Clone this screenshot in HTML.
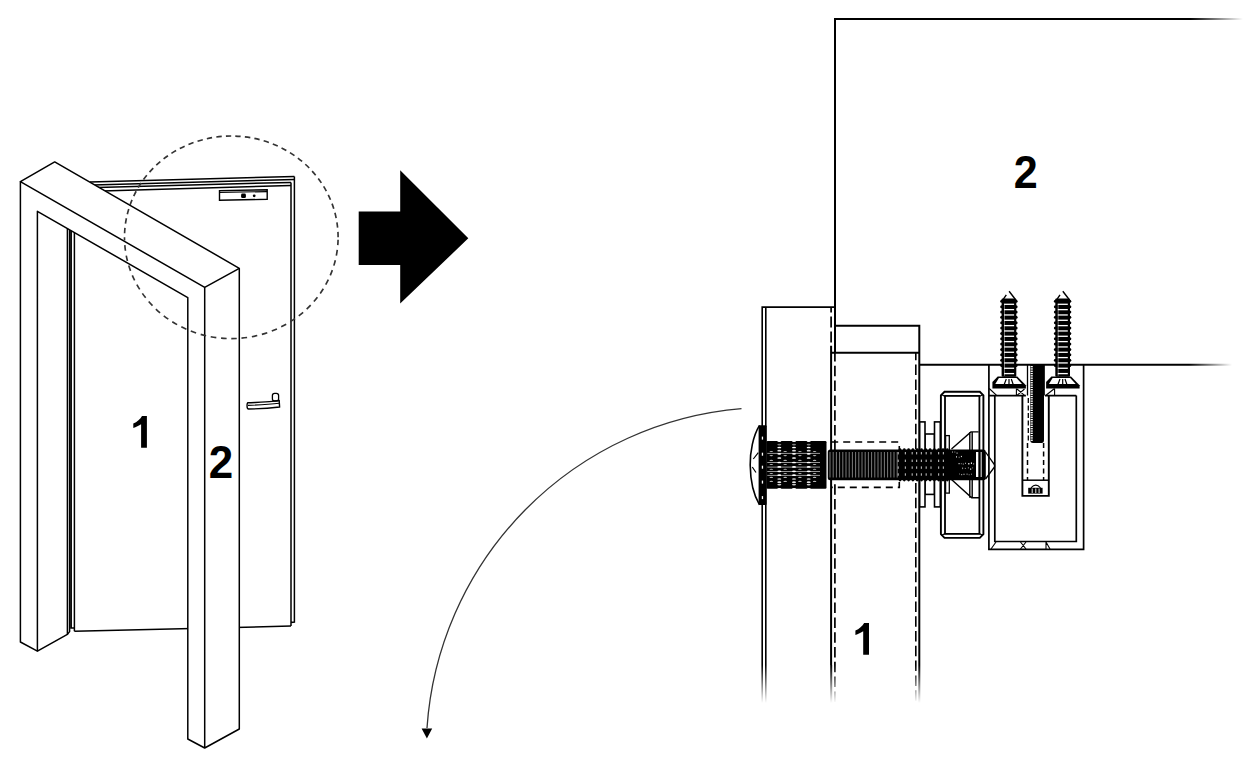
<!DOCTYPE html>
<html><head><meta charset="utf-8"><style>
html,body{margin:0;padding:0;background:#fff;}
body{width:1251px;height:759px;overflow:hidden;}
svg{display:block;}
text{font-family:"Liberation Sans",sans-serif;font-weight:bold;fill:#000;}
</style></head><body>
<svg width="1251" height="759" viewBox="0 0 1251 759">
<defs>
<linearGradient id="fadeH1" gradientUnits="userSpaceOnUse" x1="1190" y1="0" x2="1243" y2="0"><stop offset="0" stop-color="#000"/><stop offset="1" stop-color="#000" stop-opacity="0"/></linearGradient>
<linearGradient id="fadeH2" gradientUnits="userSpaceOnUse" x1="1189" y1="0" x2="1232" y2="0"><stop offset="0" stop-color="#000"/><stop offset="1" stop-color="#000" stop-opacity="0"/></linearGradient>
<linearGradient id="fadeV" gradientUnits="userSpaceOnUse" x1="0" y1="665" x2="0" y2="703"><stop offset="0" stop-color="#000"/><stop offset="1" stop-color="#000" stop-opacity="0"/></linearGradient>
</defs>

<!-- ============ LEFT FIGURE ============ -->
<g id="door" fill="none" stroke="#000" stroke-width="1.5">
  <!-- door top lines -->
  <path d="M90,181.9 L294.4,176.4 M93,184.9 L294.4,179.5 M97,187.5 L291,182.4 M102,190.9 L291,185.5"/>
  <!-- door right edges -->
  <path d="M294.4,176.4 L294.4,622.1 L291,622.4 M291,182.4 L291,626.1"/>
  <!-- door bottom -->
  <path d="M74.4,631.3 L291,626.1"/>
  <!-- door left edges -->
  <path d="M69.6,229.8 L69.6,631.6 L67.4,634.4 M71.2,230.7 L71.2,628 L74.4,628 M74.4,232.6 L74.4,631.3"/>
  <!-- lock plate -->
  <path d="M219.5,190.6 L267.2,189.8 L267.2,199.3 L219.5,200.3 Z" stroke-width="1.4"/>
  <path d="M219.5,192.3 L267.2,191.6" stroke-width="1.2"/>
  <!-- handle -->
  <path d="M248,402.8 C256,402.4 266,402.3 272,401.4 L279.2,400.6 L279.6,407 C272,408 262,408.9 248.5,409 C246.5,409 246.8,403 248,402.8 Z" stroke-width="1.4"/>
  <path d="M248,405.4 C258,405 268,404.6 279.2,403.2" stroke-width="1.1"/>
  <rect x="272.4" y="393.4" width="6.2" height="7.6" rx="2.2" stroke-width="1.3"/>
</g>
<g fill="#000">
  <rect x="241.1" y="193.6" width="4.8" height="4.4" rx="1.3"/>
  <circle cx="254.2" cy="195.8" r="1.4"/>
</g>

<g id="frame" stroke="#000" stroke-width="1.5" stroke-linejoin="round">
  <path d="M20.4,181.6 L54.7,161.9 L239.3,268.3 L239.3,729 L204.7,748 L187.8,739 L187.8,297.6 L37.4,211.3 Z" fill="#fff" stroke="none"/>
  <path d="M20.4,181.6 L54.7,161.9 L239.3,268.3 L204.7,287.4 Z" fill="none"/>
  <path d="M204.7,287.4 L204.7,748 M37.4,651.2 L37.4,211.3 L187.8,297.6 L187.8,739 L204.7,748 L239.3,729 L239.3,268.3" fill="none"/>
  <path d="M20.4,181.6 L20.4,642 L37.4,651.2 L67.4,634.4 L67.4,228.6" fill="none"/>
</g>

<g fill="none" stroke="#333" stroke-width="1.65">
<path d="M338.1,237.3 A106.8,101.3 0 0 1 124.5,237.3" stroke-dasharray="5.6 4.75" stroke-dashoffset="7.92"/>
<path d="M124.5,237.3 A106.8,101.3 0 0 1 338.1,237.3" stroke-dasharray="5.4 4.2" stroke-dashoffset="5.45"/>
</g>

<path id="one" d="M142,416 L146.9,416 L146.9,447.7 L141.1,447.7 L141.1,424.2 C139,425.5 136,427 133.3,428 L133.3,423.6 C137,422 140.5,419 142,416 Z" fill="#000"/>
<text transform="translate(208.8,478.3) scale(0.95,1)" font-size="46.3">2</text>

<!-- block arrow -->
<path d="M358.7,211.5 L400.2,211.5 L400.2,170.2 L468.3,238.3 L400.2,303.6 L400.2,265.1 L358.7,265.1 Z" fill="#000"/>

<!-- ============ RIGHT FIGURE ============ -->
<g fill="none" stroke="#000" stroke-width="2">
  <!-- wall 2 -->
  <path d="M835,352.7 L835,19.1 L1190,19.1"/>
  <path d="M1190,19.1 L1243,19.1" stroke="url(#fadeH1)"/>
  <path d="M919.3,364.8 L1189,364.8"/>
  <path d="M1189,364.8 L1232,364.8" stroke="url(#fadeH2)"/>
  <!-- frame 1 -->
  <path d="M762.2,665 L762.2,307.1 L834.8,307.1 M765.8,307.1 L765.8,665" stroke-width="1.6"/>
  <path d="M762.2,665 L762.2,703 M765.8,665 L765.8,703" stroke="url(#fadeV)" stroke-width="1.6"/>
  <path d="M831.1,307.5 L831.1,345.8" stroke-dasharray="11 4" stroke-dashoffset="6" stroke-width="1.7"/>
  <!-- small rect -->
  <path d="M835,325.8 L919.3,325.8 L919.3,665 M831.1,352.8 L919.3,352.8 M831.1,345.8 L831.1,665"/>
  <path d="M919.3,665 L919.3,703 M831.2,665 L831.2,703" stroke="url(#fadeV)"/>
  <path d="M834.9,353 L834.9,703" stroke-dasharray="10.5 4.3" stroke-dashoffset="2" stroke-width="1.7" stroke="url(#fadeV)"/>
  <path d="M915.8,353 L915.8,703" stroke-dasharray="10.5 4.3" stroke-dashoffset="3.2" stroke-width="1.6" stroke="url(#fadeV)"/>
</g>

<!--HW-->
<path d="M831.2,442 L899.3,442 L899.3,487.4 L831.2,487.4" fill="none" stroke="#000" stroke-width="1.6" stroke-dasharray="7 5"/>
<g fill="#fff" stroke="#000" stroke-width="1.6">
<rect x="925" y="434" width="9.5" height="60.4"/>
<rect x="919.7" y="421.9" width="5.3" height="85"/>
<rect x="934.5" y="421.9" width="5.8" height="85"/>
<path d="M944.5,391.8 L979.8,391.8 L983.4,395.4 L983.4,534.2 L979.8,537.9 L944.5,537.9 L940.9,534.2 L940.9,395.4 Z" stroke-width="1.9"/>
<rect x="945" y="395.9" width="34.4" height="138" stroke-width="1.8"/>
<path d="M941.5,394.5 L945,396.5 M983,394.5 L979.4,396.5 M941.5,535.5 L945,533.5 M983,535.5 L979.4,533.5" stroke-width="1.2"/>
<rect x="945.6" y="435.6" width="3.7" height="57.5" stroke-width="1.3"/>
</g>
<path d="M951.5,449 L970.9,431.9 L978.6,431.9 M951.5,479.5 L971.7,497.7 L979,497.7 M969.8,432 L969.8,497.7 M972.2,432 L972.2,497.7" fill="none" stroke="#000" stroke-width="1.4"/>
<rect x="827.8" y="449.4" width="158" height="30.9" rx="2.5" fill="#000"/>
<g stroke="#999" stroke-width="0.8"><path d="M830.0,452 L830.0,477.5"/><path d="M833.2,452 L833.2,477.5"/><path d="M836.4,452 L836.4,477.5"/><path d="M839.6,452 L839.6,477.5"/><path d="M842.8,452 L842.8,477.5"/><path d="M846.0,452 L846.0,477.5"/><path d="M849.2,452 L849.2,477.5"/><path d="M852.4,452 L852.4,477.5"/><path d="M855.6,452 L855.6,477.5"/><path d="M858.8,452 L858.8,477.5"/><path d="M862.0,452 L862.0,477.5"/><path d="M865.2,452 L865.2,477.5"/><path d="M868.4,452 L868.4,477.5"/><path d="M871.6,452 L871.6,477.5"/><path d="M874.8,452 L874.8,477.5"/><path d="M878.0,452 L878.0,477.5"/><path d="M881.2,452 L881.2,477.5"/><path d="M884.4,452 L884.4,477.5"/><path d="M887.6,452 L887.6,477.5"/><path d="M890.8,452 L890.8,477.5"/><path d="M894.0,452 L894.0,477.5"/><path d="M897.2,452 L897.2,477.5"/></g>
<rect x="897.6" y="452.0" width="1.2" height="2.4" fill="#aaa"/><rect x="904.8" y="452.0" width="1.2" height="2.4" fill="#aaa"/><rect x="911.6" y="452.0" width="1.2" height="2.4" fill="#aaa"/><rect x="916.0" y="452.0" width="1.2" height="2.4" fill="#aaa"/><rect x="920.8" y="452.0" width="1.2" height="2.4" fill="#aaa"/><rect x="925.6" y="452.0" width="1.2" height="2.4" fill="#aaa"/><rect x="930.4" y="452.0" width="1.2" height="2.4" fill="#aaa"/><rect x="938.0" y="452.0" width="1.2" height="2.4" fill="#aaa"/><rect x="942.8" y="452.0" width="1.2" height="2.4" fill="#aaa"/><rect x="897.6" y="459.6" width="1.2" height="2.4" fill="#aaa"/><rect x="904.8" y="459.6" width="1.2" height="2.4" fill="#aaa"/><rect x="911.6" y="459.6" width="1.2" height="2.4" fill="#aaa"/><rect x="916.0" y="459.6" width="1.2" height="2.4" fill="#aaa"/><rect x="920.8" y="459.6" width="1.2" height="2.4" fill="#aaa"/><rect x="925.6" y="459.6" width="1.2" height="2.4" fill="#aaa"/><rect x="930.4" y="459.6" width="1.2" height="2.4" fill="#aaa"/><rect x="938.0" y="459.6" width="1.2" height="2.4" fill="#aaa"/><rect x="942.8" y="459.6" width="1.2" height="2.4" fill="#aaa"/><rect x="897.6" y="466.4" width="1.2" height="2.4" fill="#aaa"/><rect x="904.8" y="466.4" width="1.2" height="2.4" fill="#aaa"/><rect x="911.6" y="466.4" width="1.2" height="2.4" fill="#aaa"/><rect x="916.0" y="466.4" width="1.2" height="2.4" fill="#aaa"/><rect x="920.8" y="466.4" width="1.2" height="2.4" fill="#aaa"/><rect x="925.6" y="466.4" width="1.2" height="2.4" fill="#aaa"/><rect x="930.4" y="466.4" width="1.2" height="2.4" fill="#aaa"/><rect x="938.0" y="466.4" width="1.2" height="2.4" fill="#aaa"/><rect x="942.8" y="466.4" width="1.2" height="2.4" fill="#aaa"/><rect x="897.6" y="473.3" width="1.2" height="2.4" fill="#aaa"/><rect x="904.8" y="473.3" width="1.2" height="2.4" fill="#aaa"/><rect x="911.6" y="473.3" width="1.2" height="2.4" fill="#aaa"/><rect x="916.0" y="473.3" width="1.2" height="2.4" fill="#aaa"/><rect x="920.8" y="473.3" width="1.2" height="2.4" fill="#aaa"/><rect x="925.6" y="473.3" width="1.2" height="2.4" fill="#aaa"/><rect x="930.4" y="473.3" width="1.2" height="2.4" fill="#aaa"/><rect x="938.0" y="473.3" width="1.2" height="2.4" fill="#aaa"/><rect x="942.8" y="473.3" width="1.2" height="2.4" fill="#aaa"/>
<g fill="#000"><circle cx="900.0" cy="449.6" r="1.3"/><circle cx="900.0" cy="480.1" r="1.3"/><circle cx="904.3" cy="449.6" r="1.3"/><circle cx="904.3" cy="480.1" r="1.3"/><circle cx="908.6" cy="449.6" r="1.3"/><circle cx="908.6" cy="480.1" r="1.3"/><circle cx="912.9" cy="449.6" r="1.3"/><circle cx="912.9" cy="480.1" r="1.3"/><circle cx="917.2" cy="449.6" r="1.3"/><circle cx="917.2" cy="480.1" r="1.3"/><circle cx="921.5" cy="449.6" r="1.3"/><circle cx="921.5" cy="480.1" r="1.3"/><circle cx="925.8" cy="449.6" r="1.3"/><circle cx="925.8" cy="480.1" r="1.3"/><circle cx="930.1" cy="449.6" r="1.3"/><circle cx="930.1" cy="480.1" r="1.3"/><circle cx="934.4" cy="449.6" r="1.3"/><circle cx="934.4" cy="480.1" r="1.3"/><circle cx="938.7" cy="449.6" r="1.3"/><circle cx="938.7" cy="480.1" r="1.3"/><circle cx="943.0" cy="449.6" r="1.3"/><circle cx="943.0" cy="480.1" r="1.3"/><circle cx="947.3" cy="449.6" r="1.3"/><circle cx="947.3" cy="480.1" r="1.3"/></g>
<rect x="976" y="452" width="2.3" height="25" fill="#fff"/>
<rect x="980.6" y="452" width="1.2" height="25" fill="#fff" fill-opacity="0.8"/>
<rect x="952.0" y="451.5" width="0.9" height="1.1" fill="#fff" fill-opacity="0.77"/><rect x="954.6" y="451.3" width="0.6" height="1.5" fill="#fff" fill-opacity="0.62"/><rect x="956.6" y="452.4" width="0.9" height="1.5" fill="#fff" fill-opacity="0.71"/><rect x="956.0" y="456.1" width="1.0" height="1.5" fill="#fff" fill-opacity="0.74"/><rect x="958.8" y="456.7" width="0.6" height="1.4" fill="#fff" fill-opacity="0.77"/><rect x="960.9" y="455.9" width="1.1" height="1.2" fill="#fff" fill-opacity="0.82"/><rect x="958.5" y="463.1" width="1.2" height="1.1" fill="#fff" fill-opacity="0.86"/><rect x="960.8" y="463.3" width="1.1" height="0.9" fill="#fff" fill-opacity="0.56"/><rect x="962.8" y="463.4" width="0.9" height="1.3" fill="#fff" fill-opacity="0.64"/><rect x="965.2" y="462.7" width="0.8" height="1.3" fill="#fff" fill-opacity="0.76"/><rect x="968.2" y="463.0" width="1.2" height="1.5" fill="#fff" fill-opacity="0.95"/><rect x="970.9" y="462.4" width="1.1" height="1.6" fill="#fff" fill-opacity="0.91"/><rect x="973.4" y="463.1" width="0.7" height="1.5" fill="#fff" fill-opacity="0.76"/><rect x="962.0" y="467.5" width="1.1" height="1.6" fill="#fff" fill-opacity="0.54"/><rect x="964.9" y="467.9" width="0.7" height="1.0" fill="#fff" fill-opacity="0.85"/><rect x="967.9" y="467.5" width="1.0" height="0.8" fill="#fff" fill-opacity="0.82"/><rect x="970.0" y="468.5" width="1.2" height="1.2" fill="#fff" fill-opacity="0.95"/><rect x="972.1" y="467.5" width="1.0" height="0.8" fill="#fff" fill-opacity="0.59"/><rect x="959.0" y="473.6" width="0.7" height="0.8" fill="#fff" fill-opacity="0.89"/><rect x="961.1" y="474.1" width="1.1" height="1.1" fill="#fff" fill-opacity="0.71"/><rect x="963.5" y="473.7" width="1.0" height="1.2" fill="#fff" fill-opacity="0.78"/><rect x="966.6" y="473.5" width="0.9" height="1.4" fill="#fff" fill-opacity="0.61"/><rect x="968.7" y="474.1" width="0.9" height="1.2" fill="#fff" fill-opacity="0.51"/><rect x="971.0" y="473.6" width="0.6" height="1.3" fill="#fff" fill-opacity="0.78"/>
<path d="M985.5,452 L994.5,464.8 L994.5,467 L985.5,479" fill="none" stroke="#000" stroke-width="1.3"/>
<rect x="766.5" y="441.1" width="60" height="47.7" rx="1.2" fill="#000"/>
<ellipse cx="779.3" cy="441.3" rx="2.0" ry="0.7" fill="#fff"/>
<ellipse cx="779.3" cy="488.7" rx="2.0" ry="0.7" fill="#fff"/>
<ellipse cx="794.0" cy="441.3" rx="2.0" ry="0.7" fill="#fff"/>
<ellipse cx="794.0" cy="488.7" rx="2.0" ry="0.7" fill="#fff"/>
<ellipse cx="808.7" cy="441.3" rx="2.0" ry="0.7" fill="#fff"/>
<ellipse cx="808.7" cy="488.7" rx="2.0" ry="0.7" fill="#fff"/>
<path d="M767.3,453.4 L820,453.4" stroke="#fff" stroke-width="0.7" stroke-opacity="0.85"/>
<path d="M767.3,462.5 L820,462.5" stroke="#fff" stroke-width="0.7" stroke-opacity="0.85"/>
<path d="M767.3,467.1 L820,467.1" stroke="#fff" stroke-width="0.7" stroke-opacity="0.85"/>
<path d="M767.3,471.5 L820,471.5" stroke="#fff" stroke-width="0.7" stroke-opacity="0.85"/>
<path d="M767.3,475.4 L820,475.4" stroke="#fff" stroke-width="0.7" stroke-opacity="0.85"/>
<ellipse cx="779.3" cy="444.6" rx="2.0" ry="0.85" fill="#fff" fill-opacity="0.5"/>
<ellipse cx="779.3" cy="447.5" rx="2.0" ry="0.85" fill="#fff" fill-opacity="1"/>
<ellipse cx="779.3" cy="450.7" rx="2.0" ry="0.85" fill="#fff" fill-opacity="0.85"/>
<ellipse cx="779.3" cy="453.8" rx="2.0" ry="0.85" fill="#fff" fill-opacity="1"/>
<ellipse cx="779.3" cy="458" rx="2.0" ry="0.85" fill="#fff" fill-opacity="1"/>
<ellipse cx="779.3" cy="462.5" rx="2.0" ry="0.85" fill="#fff" fill-opacity="1"/>
<ellipse cx="779.3" cy="466.9" rx="2.0" ry="0.85" fill="#fff" fill-opacity="1"/>
<ellipse cx="779.3" cy="471.3" rx="2.0" ry="0.85" fill="#fff" fill-opacity="1"/>
<ellipse cx="779.3" cy="475.2" rx="2.0" ry="0.85" fill="#fff" fill-opacity="1"/>
<ellipse cx="779.3" cy="479" rx="2.0" ry="0.85" fill="#fff" fill-opacity="0.8"/>
<ellipse cx="779.3" cy="482.2" rx="2.0" ry="0.85" fill="#fff" fill-opacity="0.9"/>
<ellipse cx="779.3" cy="484.6" rx="2.0" ry="0.85" fill="#fff" fill-opacity="0.8"/>
<ellipse cx="794.0" cy="444.6" rx="2.0" ry="0.85" fill="#fff" fill-opacity="0.5"/>
<ellipse cx="794.0" cy="447.5" rx="2.0" ry="0.85" fill="#fff" fill-opacity="1"/>
<ellipse cx="794.0" cy="450.7" rx="2.0" ry="0.85" fill="#fff" fill-opacity="0.85"/>
<ellipse cx="794.0" cy="453.8" rx="2.0" ry="0.85" fill="#fff" fill-opacity="1"/>
<ellipse cx="794.0" cy="458" rx="2.0" ry="0.85" fill="#fff" fill-opacity="1"/>
<ellipse cx="794.0" cy="462.5" rx="2.0" ry="0.85" fill="#fff" fill-opacity="1"/>
<ellipse cx="794.0" cy="466.9" rx="2.0" ry="0.85" fill="#fff" fill-opacity="1"/>
<ellipse cx="794.0" cy="471.3" rx="2.0" ry="0.85" fill="#fff" fill-opacity="1"/>
<ellipse cx="794.0" cy="475.2" rx="2.0" ry="0.85" fill="#fff" fill-opacity="1"/>
<ellipse cx="794.0" cy="479" rx="2.0" ry="0.85" fill="#fff" fill-opacity="0.8"/>
<ellipse cx="794.0" cy="482.2" rx="2.0" ry="0.85" fill="#fff" fill-opacity="0.9"/>
<ellipse cx="794.0" cy="484.6" rx="2.0" ry="0.85" fill="#fff" fill-opacity="0.8"/>
<ellipse cx="808.7" cy="444.6" rx="2.0" ry="0.85" fill="#fff" fill-opacity="0.5"/>
<ellipse cx="808.7" cy="447.5" rx="2.0" ry="0.85" fill="#fff" fill-opacity="1"/>
<ellipse cx="808.7" cy="450.7" rx="2.0" ry="0.85" fill="#fff" fill-opacity="0.85"/>
<ellipse cx="808.7" cy="453.8" rx="2.0" ry="0.85" fill="#fff" fill-opacity="1"/>
<ellipse cx="808.7" cy="458" rx="2.0" ry="0.85" fill="#fff" fill-opacity="1"/>
<ellipse cx="808.7" cy="462.5" rx="2.0" ry="0.85" fill="#fff" fill-opacity="1"/>
<ellipse cx="808.7" cy="466.9" rx="2.0" ry="0.85" fill="#fff" fill-opacity="1"/>
<ellipse cx="808.7" cy="471.3" rx="2.0" ry="0.85" fill="#fff" fill-opacity="1"/>
<ellipse cx="808.7" cy="475.2" rx="2.0" ry="0.85" fill="#fff" fill-opacity="1"/>
<ellipse cx="808.7" cy="479" rx="2.0" ry="0.85" fill="#fff" fill-opacity="0.8"/>
<ellipse cx="808.7" cy="482.2" rx="2.0" ry="0.85" fill="#fff" fill-opacity="0.9"/>
<ellipse cx="808.7" cy="484.6" rx="2.0" ry="0.85" fill="#fff" fill-opacity="0.8"/>
<ellipse cx="771.3" cy="451.5" rx="1.8" ry="0.55" fill="#fff" fill-opacity="0.7"/>
<ellipse cx="771.3" cy="455.6" rx="1.8" ry="0.55" fill="#fff" fill-opacity="0.7"/>
<ellipse cx="771.3" cy="460.4" rx="1.8" ry="0.55" fill="#fff" fill-opacity="0.7"/>
<ellipse cx="771.3" cy="464.5" rx="1.8" ry="0.55" fill="#fff" fill-opacity="0.7"/>
<ellipse cx="771.3" cy="469.3" rx="1.8" ry="0.55" fill="#fff" fill-opacity="0.7"/>
<ellipse cx="771.3" cy="473.5" rx="1.8" ry="0.55" fill="#fff" fill-opacity="0.7"/>
<ellipse cx="771.3" cy="477.4" rx="1.8" ry="0.55" fill="#fff" fill-opacity="0.7"/>
<ellipse cx="771.3" cy="481.4" rx="1.8" ry="0.55" fill="#fff" fill-opacity="0.7"/>
<ellipse cx="785.2" cy="451.5" rx="1.8" ry="0.55" fill="#fff" fill-opacity="0.7"/>
<ellipse cx="785.2" cy="455.6" rx="1.8" ry="0.55" fill="#fff" fill-opacity="0.7"/>
<ellipse cx="785.2" cy="460.4" rx="1.8" ry="0.55" fill="#fff" fill-opacity="0.7"/>
<ellipse cx="785.2" cy="464.5" rx="1.8" ry="0.55" fill="#fff" fill-opacity="0.7"/>
<ellipse cx="785.2" cy="469.3" rx="1.8" ry="0.55" fill="#fff" fill-opacity="0.7"/>
<ellipse cx="785.2" cy="473.5" rx="1.8" ry="0.55" fill="#fff" fill-opacity="0.7"/>
<ellipse cx="785.2" cy="477.4" rx="1.8" ry="0.55" fill="#fff" fill-opacity="0.7"/>
<ellipse cx="785.2" cy="481.4" rx="1.8" ry="0.55" fill="#fff" fill-opacity="0.7"/>
<ellipse cx="799.9" cy="451.5" rx="1.8" ry="0.55" fill="#fff" fill-opacity="0.7"/>
<ellipse cx="799.9" cy="455.6" rx="1.8" ry="0.55" fill="#fff" fill-opacity="0.7"/>
<ellipse cx="799.9" cy="460.4" rx="1.8" ry="0.55" fill="#fff" fill-opacity="0.7"/>
<ellipse cx="799.9" cy="464.5" rx="1.8" ry="0.55" fill="#fff" fill-opacity="0.7"/>
<ellipse cx="799.9" cy="469.3" rx="1.8" ry="0.55" fill="#fff" fill-opacity="0.7"/>
<ellipse cx="799.9" cy="473.5" rx="1.8" ry="0.55" fill="#fff" fill-opacity="0.7"/>
<ellipse cx="799.9" cy="477.4" rx="1.8" ry="0.55" fill="#fff" fill-opacity="0.7"/>
<ellipse cx="799.9" cy="481.4" rx="1.8" ry="0.55" fill="#fff" fill-opacity="0.7"/>
<ellipse cx="814.6" cy="451.5" rx="1.8" ry="0.55" fill="#fff" fill-opacity="0.7"/>
<ellipse cx="814.6" cy="455.6" rx="1.8" ry="0.55" fill="#fff" fill-opacity="0.7"/>
<ellipse cx="814.6" cy="460.4" rx="1.8" ry="0.55" fill="#fff" fill-opacity="0.7"/>
<ellipse cx="814.6" cy="464.5" rx="1.8" ry="0.55" fill="#fff" fill-opacity="0.7"/>
<ellipse cx="814.6" cy="469.3" rx="1.8" ry="0.55" fill="#fff" fill-opacity="0.7"/>
<ellipse cx="814.6" cy="473.5" rx="1.8" ry="0.55" fill="#fff" fill-opacity="0.7"/>
<ellipse cx="814.6" cy="477.4" rx="1.8" ry="0.55" fill="#fff" fill-opacity="0.7"/>
<ellipse cx="814.6" cy="481.4" rx="1.8" ry="0.55" fill="#fff" fill-opacity="0.7"/>
<rect x="758.6" y="425.2" width="8" height="79.8" rx="1" fill="#000"/>
<rect x="761.8" y="436.6" width="1.3" height="3" fill="#fff"/>
<rect x="761.8" y="452.7" width="1.3" height="3" fill="#fff"/>
<rect x="761.8" y="465.7" width="1.3" height="3" fill="#fff"/>
<rect x="761.8" y="480.6" width="1.3" height="3" fill="#fff"/>
<rect x="761.8" y="496.1" width="1.3" height="3" fill="#fff"/>
<path d="M759.5,425.4 C753,436 750,452 750.2,465 C750.4,480 753,494 759.5,504.8" fill="none" stroke="#000" stroke-width="1.6"/>
<path d="M753.3,459 L758.3,452.7 M752.3,467 L756,472.5" fill="none" stroke="#000" stroke-width="1.2"/>
<g fill="none" stroke="#000" stroke-width="1.7">
<path d="M988.9,364.7 L988.9,549.4 L1083.6,549.4 L1083.6,364.7"/>
<path d="M994.8,395.6 L994.8,541.5 L1076.3,541.5 L1076.3,395.6"/>
<path d="M988.9,395.6 L1025.9,395.6 M1045,395.6 L1076.3,395.6"/>
<path d="M1022.4,395.6 L1022.4,495.9 L1048.8,495.9 L1048.8,395.6" stroke-width="1.9"/>
<path d="M1022.4,480.2 L1048.8,480.2" stroke-width="1.5"/>
<path d="M1027.5,364.7 L1027.5,395.6 M1044.2,364.7 L1044.2,395.6" stroke-width="1.3"/>
</g>
<path d="M991,549 L996,542 M1020.5,542 L1026,549 M1020.5,549 L1026,542 M1046,542 L1050,549 M1046,549 L1046,542" fill="none" stroke="#000" stroke-width="1.1"/>
<path d="M989.2,388.5 L996.9,395.6 M1016.4,388.5 L1016.4,395.6 M1017,389 L1024.5,395.3 M1017,395.3 L1024.5,389 M1054.5,388.5 L1046,395.3 M1054.6,388.5 L1054.6,395.6" fill="none" stroke="#000" stroke-width="1.1"/>
<path d="M1030.2,364.7 L1044,364.7 L1044,440 Q1044,443 1041.5,443 L1033,443 Q1030.2,443 1030.2,440 Z" fill="#000"/>
<rect x="1030.6" y="366.0" width="2.2" height="1.3" fill="#fff"/><rect x="1030.6" y="368.3" width="2.2" height="1.3" fill="#fff"/><rect x="1030.6" y="370.6" width="2.2" height="1.3" fill="#fff"/><rect x="1030.6" y="372.9" width="2.2" height="1.3" fill="#fff"/><rect x="1030.6" y="375.2" width="2.2" height="1.3" fill="#fff"/><rect x="1030.6" y="377.5" width="2.2" height="1.3" fill="#fff"/><rect x="1030.6" y="379.8" width="2.2" height="1.3" fill="#fff"/><rect x="1030.6" y="382.1" width="2.2" height="1.3" fill="#fff"/><rect x="1030.6" y="384.4" width="2.2" height="1.3" fill="#fff"/><rect x="1030.6" y="386.7" width="2.2" height="1.3" fill="#fff"/><rect x="1030.6" y="389.0" width="2.2" height="1.3" fill="#fff"/><rect x="1030.6" y="391.3" width="2.2" height="1.3" fill="#fff"/><rect x="1030.6" y="393.6" width="2.2" height="1.3" fill="#fff"/><rect x="1030.6" y="395.9" width="2.2" height="1.3" fill="#fff"/><rect x="1030.6" y="398.2" width="2.2" height="1.3" fill="#fff"/><rect x="1030.6" y="400.5" width="2.2" height="1.3" fill="#fff"/><rect x="1030.6" y="402.8" width="2.2" height="1.3" fill="#fff"/><rect x="1030.6" y="405.1" width="2.2" height="1.3" fill="#fff"/><rect x="1030.6" y="407.4" width="2.2" height="1.3" fill="#fff"/><rect x="1030.6" y="409.7" width="2.2" height="1.3" fill="#fff"/><rect x="1030.6" y="412.0" width="2.2" height="1.3" fill="#fff"/><rect x="1030.6" y="414.3" width="2.2" height="1.3" fill="#fff"/><rect x="1030.6" y="416.6" width="2.2" height="1.3" fill="#fff"/><rect x="1030.6" y="418.9" width="2.2" height="1.3" fill="#fff"/><rect x="1030.6" y="421.2" width="2.2" height="1.3" fill="#fff"/><rect x="1030.6" y="423.5" width="2.2" height="1.3" fill="#fff"/><rect x="1030.6" y="425.8" width="2.2" height="1.3" fill="#fff"/><rect x="1030.6" y="428.1" width="2.2" height="1.3" fill="#fff"/><rect x="1030.6" y="430.4" width="2.2" height="1.3" fill="#fff"/><rect x="1030.6" y="432.7" width="2.2" height="1.3" fill="#fff"/><rect x="1030.6" y="435.0" width="2.2" height="1.3" fill="#fff"/><rect x="1030.6" y="437.3" width="2.2" height="1.3" fill="#fff"/><rect x="1030.6" y="439.6" width="2.2" height="1.3" fill="#fff"/>
<path d="M1028.3,398 L1028.3,443" stroke="#000" stroke-width="1.3" stroke-dasharray="5 2.5"/>
<path d="M1027.5,443 L1027.5,480 M1043.6,443 L1043.6,480" stroke="#000" stroke-width="1.5" stroke-dasharray="5 3.5"/>
<path d="M1028.2,493.6 L1028.2,487.8 L1042.6,487.8 L1042.6,493.6 Z" fill="#000"/>
<path d="M1031,487.8 Q1035.8,482.5 1040.5,487.8" fill="none" stroke="#000" stroke-width="1.2"/>
<path d="M1032.2,488.5 L1032.2,493 M1035.8,488.5 L1035.8,493 M1039.1,488.5 L1039.1,493" stroke="#fff" stroke-width="0.9"/>
<path d="M1002.2,300.9 L1006.3,294.9 M1009.1,291.3 L1014.1,297.7 L1016.2,300.9" fill="none" stroke="#000" stroke-width="1.4"/>
<rect x="1001.6" y="298.6" width="14.7" height="78.2" rx="1" fill="#000"/>
<ellipse cx="1001.7" cy="301.30" rx="1.5" ry="1.5" fill="#000"/><ellipse cx="1016.2" cy="301.30" rx="1.4" ry="1.5" fill="#000"/>
<ellipse cx="1001.7" cy="306.65" rx="1.5" ry="1.5" fill="#000"/><ellipse cx="1016.2" cy="306.65" rx="1.4" ry="1.5" fill="#000"/>
<ellipse cx="1001.7" cy="312.00" rx="1.5" ry="1.5" fill="#000"/><ellipse cx="1016.2" cy="312.00" rx="1.4" ry="1.5" fill="#000"/>
<ellipse cx="1001.7" cy="317.35" rx="1.5" ry="1.5" fill="#000"/><ellipse cx="1016.2" cy="317.35" rx="1.4" ry="1.5" fill="#000"/>
<ellipse cx="1001.7" cy="322.70" rx="1.5" ry="1.5" fill="#000"/><ellipse cx="1016.2" cy="322.70" rx="1.4" ry="1.5" fill="#000"/>
<ellipse cx="1001.7" cy="328.05" rx="1.5" ry="1.5" fill="#000"/><ellipse cx="1016.2" cy="328.05" rx="1.4" ry="1.5" fill="#000"/>
<ellipse cx="1001.7" cy="333.40" rx="1.5" ry="1.5" fill="#000"/><ellipse cx="1016.2" cy="333.40" rx="1.4" ry="1.5" fill="#000"/>
<ellipse cx="1001.7" cy="338.75" rx="1.5" ry="1.5" fill="#000"/><ellipse cx="1016.2" cy="338.75" rx="1.4" ry="1.5" fill="#000"/>
<ellipse cx="1001.7" cy="344.10" rx="1.5" ry="1.5" fill="#000"/><ellipse cx="1016.2" cy="344.10" rx="1.4" ry="1.5" fill="#000"/>
<ellipse cx="1001.7" cy="349.45" rx="1.5" ry="1.5" fill="#000"/><ellipse cx="1016.2" cy="349.45" rx="1.4" ry="1.5" fill="#000"/>
<ellipse cx="1001.7" cy="354.80" rx="1.5" ry="1.5" fill="#000"/><ellipse cx="1016.2" cy="354.80" rx="1.4" ry="1.5" fill="#000"/>
<ellipse cx="1001.7" cy="360.15" rx="1.5" ry="1.5" fill="#000"/><ellipse cx="1016.2" cy="360.15" rx="1.4" ry="1.5" fill="#000"/>
<ellipse cx="1001.7" cy="365.50" rx="1.5" ry="1.5" fill="#000"/><ellipse cx="1016.2" cy="365.50" rx="1.4" ry="1.5" fill="#000"/>
<rect x="1004.1" y="303.65" width="10" height="1.3" fill="#fff"/>
<rect x="1004.1" y="308.98" width="10" height="1.3" fill="#fff"/>
<rect x="1004.1" y="314.31" width="10" height="1.3" fill="#fff"/>
<rect x="1004.1" y="319.64" width="10" height="1.3" fill="#fff"/>
<rect x="1004.1" y="324.97" width="10" height="1.3" fill="#fff"/>
<rect x="1004.1" y="330.30" width="10" height="1.3" fill="#fff"/>
<rect x="1004.1" y="335.63" width="10" height="1.3" fill="#fff"/>
<rect x="1004.1" y="340.96" width="10" height="1.3" fill="#fff"/>
<rect x="1004.1" y="346.29" width="10" height="1.3" fill="#fff"/>
<rect x="1004.1" y="351.62" width="10" height="1.3" fill="#fff"/>
<rect x="1004.1" y="356.95" width="10" height="1.3" fill="#fff"/>
<rect x="1004.1" y="362.28" width="10" height="1.3" fill="#fff"/>
<rect x="1004.1" y="367.61" width="10" height="1.3" fill="#fff"/>
<rect x="1004.1" y="372.94" width="10" height="1.3" fill="#fff"/>
<rect x="1004.0" y="303.8" width="0.9" height="72" fill="#fff" fill-opacity="0.5"/>
<path d="M997.7,376.6 L1017.3,376.6 L1025.9,385.3 L1025.9,388.6 L992.4,388.6 L992.4,381.9 Z" fill="#000"/>
<path d="M998.9,378.1 L1016.5,378.1 L1022.0,384.1 L995.3,384.1 Z" fill="#fff"/>
<path d="M1004.3,384.3 L1006.3,379 M1009.0,384.3 L1009.0,379 M1013.1,384.3 L1011.3,379" stroke="#000" stroke-width="1.2"/>
<path d="M1055.9,300.9 L1060.0,294.9 M1062.8,291.3 L1067.8,297.7 L1069.9,300.9" fill="none" stroke="#000" stroke-width="1.4"/>
<rect x="1055.3" y="298.6" width="14.7" height="78.2" rx="1" fill="#000"/>
<ellipse cx="1055.4" cy="301.30" rx="1.5" ry="1.5" fill="#000"/><ellipse cx="1069.9" cy="301.30" rx="1.4" ry="1.5" fill="#000"/>
<ellipse cx="1055.4" cy="306.65" rx="1.5" ry="1.5" fill="#000"/><ellipse cx="1069.9" cy="306.65" rx="1.4" ry="1.5" fill="#000"/>
<ellipse cx="1055.4" cy="312.00" rx="1.5" ry="1.5" fill="#000"/><ellipse cx="1069.9" cy="312.00" rx="1.4" ry="1.5" fill="#000"/>
<ellipse cx="1055.4" cy="317.35" rx="1.5" ry="1.5" fill="#000"/><ellipse cx="1069.9" cy="317.35" rx="1.4" ry="1.5" fill="#000"/>
<ellipse cx="1055.4" cy="322.70" rx="1.5" ry="1.5" fill="#000"/><ellipse cx="1069.9" cy="322.70" rx="1.4" ry="1.5" fill="#000"/>
<ellipse cx="1055.4" cy="328.05" rx="1.5" ry="1.5" fill="#000"/><ellipse cx="1069.9" cy="328.05" rx="1.4" ry="1.5" fill="#000"/>
<ellipse cx="1055.4" cy="333.40" rx="1.5" ry="1.5" fill="#000"/><ellipse cx="1069.9" cy="333.40" rx="1.4" ry="1.5" fill="#000"/>
<ellipse cx="1055.4" cy="338.75" rx="1.5" ry="1.5" fill="#000"/><ellipse cx="1069.9" cy="338.75" rx="1.4" ry="1.5" fill="#000"/>
<ellipse cx="1055.4" cy="344.10" rx="1.5" ry="1.5" fill="#000"/><ellipse cx="1069.9" cy="344.10" rx="1.4" ry="1.5" fill="#000"/>
<ellipse cx="1055.4" cy="349.45" rx="1.5" ry="1.5" fill="#000"/><ellipse cx="1069.9" cy="349.45" rx="1.4" ry="1.5" fill="#000"/>
<ellipse cx="1055.4" cy="354.80" rx="1.5" ry="1.5" fill="#000"/><ellipse cx="1069.9" cy="354.80" rx="1.4" ry="1.5" fill="#000"/>
<ellipse cx="1055.4" cy="360.15" rx="1.5" ry="1.5" fill="#000"/><ellipse cx="1069.9" cy="360.15" rx="1.4" ry="1.5" fill="#000"/>
<ellipse cx="1055.4" cy="365.50" rx="1.5" ry="1.5" fill="#000"/><ellipse cx="1069.9" cy="365.50" rx="1.4" ry="1.5" fill="#000"/>
<rect x="1057.8" y="303.65" width="10" height="1.3" fill="#fff"/>
<rect x="1057.8" y="308.98" width="10" height="1.3" fill="#fff"/>
<rect x="1057.8" y="314.31" width="10" height="1.3" fill="#fff"/>
<rect x="1057.8" y="319.64" width="10" height="1.3" fill="#fff"/>
<rect x="1057.8" y="324.97" width="10" height="1.3" fill="#fff"/>
<rect x="1057.8" y="330.30" width="10" height="1.3" fill="#fff"/>
<rect x="1057.8" y="335.63" width="10" height="1.3" fill="#fff"/>
<rect x="1057.8" y="340.96" width="10" height="1.3" fill="#fff"/>
<rect x="1057.8" y="346.29" width="10" height="1.3" fill="#fff"/>
<rect x="1057.8" y="351.62" width="10" height="1.3" fill="#fff"/>
<rect x="1057.8" y="356.95" width="10" height="1.3" fill="#fff"/>
<rect x="1057.8" y="362.28" width="10" height="1.3" fill="#fff"/>
<rect x="1057.8" y="367.61" width="10" height="1.3" fill="#fff"/>
<rect x="1057.8" y="372.94" width="10" height="1.3" fill="#fff"/>
<rect x="1057.7" y="303.8" width="0.9" height="72" fill="#fff" fill-opacity="0.5"/>
<path d="M1051.4,376.6 L1071.0,376.6 L1079.6,385.3 L1079.6,388.6 L1046.1,388.6 L1046.1,381.9 Z" fill="#000"/>
<path d="M1052.6,378.1 L1070.2,378.1 L1075.7,384.1 L1049.0,384.1 Z" fill="#fff"/>
<path d="M1058.0,384.3 L1060.0,379 M1062.7,384.3 L1062.7,379 M1066.8,384.3 L1065.0,379" stroke="#000" stroke-width="1.2"/>

<!--/HW-->
<use href="#one" transform="translate(722.1,207)"/>
<text transform="translate(1013.8,187.8) scale(0.945,1)" font-size="45.6">2</text>

<!-- curved arrow -->
<path d="M741.5,408.6 A343.9,343.9 0 0 0 427,728" fill="none" stroke="#333" stroke-width="1.3"/>
<path d="M421.6,728.4 L432.2,728.4 L426.9,738.6 Z" fill="#000"/>

</svg>
</body></html>
